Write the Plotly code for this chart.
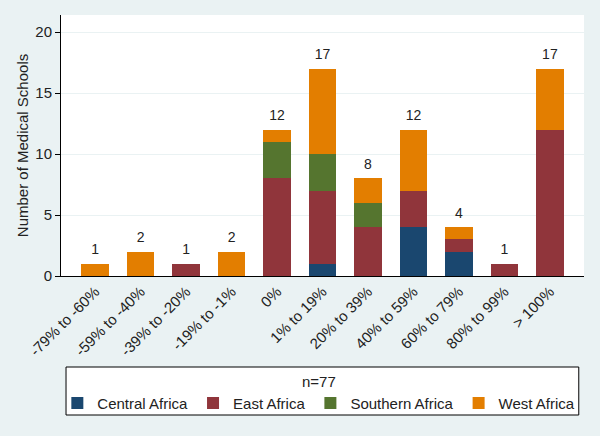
import plotly.graph_objects as go

categories = ["-79% to -60%", "-59% to -40%", "-39% to -20%", "-19% to -1%", "0%",
              "1% to 19%", "20% to 39%", "40% to 59%", "60% to 79%", "80% to 99%", "> 100%"]
central_africa = [0, 0, 0, 0, 0, 1, 0, 4, 2, 0, 0]
east_africa = [0, 0, 1, 0, 8, 6, 4, 3, 1, 1, 12]
southern_africa = [0, 0, 0, 0, 3, 3, 2, 0, 0, 0, 0]
west_africa = [1, 2, 0, 2, 1, 7, 2, 5, 1, 0, 5]
totals = [a + b + c + d for a, b, c, d in zip(central_africa, east_africa, southern_africa, west_africa)]

series = [
    ("Central Africa", central_africa, "#1a476f"),
    ("East Africa", east_africa, "#90353b"),
    ("Southern Africa", southern_africa, "#55752f"),
    ("West Africa", west_africa, "#e37e00"),
]

x_idx = list(range(len(categories)))
font = "Liberation Sans, Arial, sans-serif"

fig = go.Figure()
for name, vals, color in series:
    fig.add_trace(go.Bar(
        x=x_idx, y=vals, name=name, width=0.6,
        marker=dict(color=color, line=dict(width=0)),
    ))

fig.add_trace(go.Scatter(
    x=x_idx, y=totals, mode="markers+text", text=[str(t) for t in totals],
    marker=dict(size=8, opacity=0),
    textposition="top center", textfont=dict(size=14, color="#222222", family=font),
    showlegend=False, hoverinfo="skip", cliponaxis=False,
))

fig.update_layout(
    width=600, height=436,
    barmode="stack",
    paper_bgcolor="#eaf2f3",
    plot_bgcolor="white",
    margin=dict(l=61, r=16, t=15, b=160),
    font=dict(family=font, size=14, color="#111111"),
    xaxis=dict(
        range=[-0.75, 10.75], tickmode="array", tickvals=x_idx, ticktext=categories,
        tickangle=-45, showline=True, linecolor="black", linewidth=1,
        showgrid=False, zeroline=False, ticks="", tickfont=dict(size=15, color="#222222"),
    ),
    yaxis=dict(
        range=[0, 21.4], tickvals=[0, 5, 10, 15, 20], showline=True, linecolor="black",
        linewidth=1, ticks="outside", ticklen=5, tickcolor="black",
        gridcolor="#eaf2f3", gridwidth=1, zeroline=False,
        tickfont=dict(size=15, color="#222222"),
        title=dict(text="Number of Medical Schools", font=dict(size=15, color="#222222"), standoff=3),
    ),
    legend=dict(
        orientation="h", x=0.493, xanchor="center", y=-0.35, yanchor="top",
        bgcolor="rgba(0,0,0,0)", borderwidth=0, font=dict(size=15, color="#222222"),
        title=dict(text="n=77", side="top center", font=dict(size=15, color="#222222")),
        traceorder="normal", itemclick=False,
    ),
    shapes=[dict(
        type="rect", xref="paper", yref="paper",
        x0=0.0096, x1=0.990, y0=-0.5326, y1=-0.3487,
        line=dict(color="black", width=1), fillcolor="white", layer="below",
    )],
)

fig.write_html("out.html", config={"displayModeBar": False},
               post_script="document.body.style.margin='0';")
